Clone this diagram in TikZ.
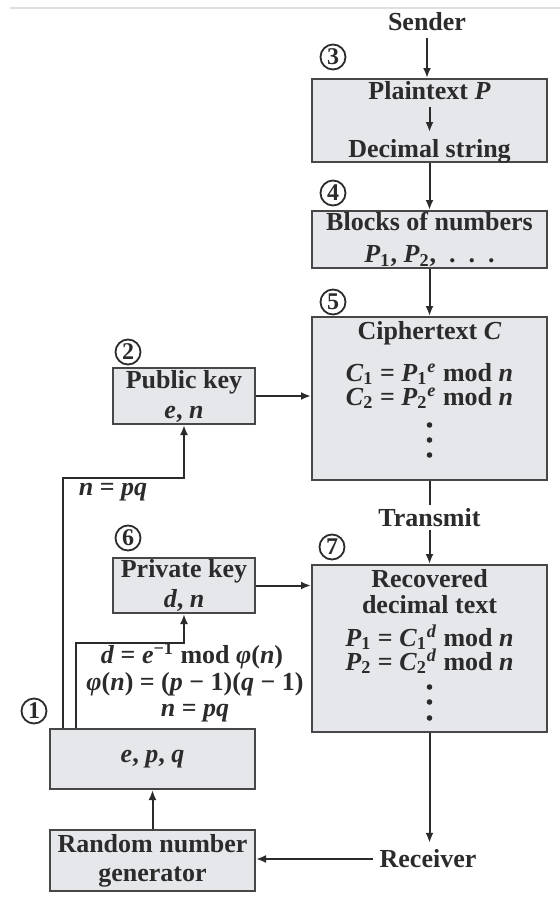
\documentclass[tikz,border=0pt]{standalone}
\usepackage{fontspec}
\setmainfont{Liberation Serif}
\usetikzlibrary{arrows.meta,positioning,calc}

\definecolor{boxfill}{HTML}{E6E7EB}
\definecolor{boxline}{HTML}{474747}
\definecolor{inkc}{HTML}{2B2B2B}

% variables and indices in the text font
\newcommand{\vi}[1]{\textit{#1}}
\newcommand{\sbx}[1]{\textsubscript{#1}}
\newcommand{\sbsp}[2]{\textsubscript{#1}\textsuperscript{\itshape #2}}

\begin{document}
\begin{tikzpicture}[x=0.5pt, y=-0.5pt,
  every node/.style={font=\fontsize{13}{15}\selectfont\bfseries, text=inkc},
  blk/.style={draw=boxline, fill=boxfill, line width=1pt, inner sep=0pt},
  num/.style={draw=inkc, circle, line width=0.9pt, minimum size=12.5pt, inner sep=0pt,
    font=\fontsize{12}{12}\selectfont\bfseries},
  arr/.style={draw=inkc, line width=1pt, -{Latex[length=5pt,width=4pt]}}]

\useasboundingbox (0,0) rectangle (560,917);

% faint rule at the top
\draw[gray!25, line width=1pt] (10,8) -- (560,8);

% Sender side column
\node (sendr) at (427,22) {Sender};
\node[blk, minimum width=117.5pt, minimum height=41.5pt] (plain) at (429.5,120.5) {};
\node (ptxt) at (429.5,91) {Plaintext \vi{P}};
\node (dstr) at (429.5,151) {Decimal string};
\node[blk, minimum width=117.5pt, minimum height=28.5pt, align=center] (blocks) at (429.5,239.5)
  {Blocks of numbers\\[1pt] \vi{P}\sbx{1}, \vi{P}\sbx{2}, \ .\ \ .\ \ .};
\node[blk, minimum width=117.5pt, minimum height=81.5pt] (ciph) at (429.5,398.5) {};
\node (ctitle) at (429.5,333) {Ciphertext \vi{C}};
\node[anchor=base, inner ysep=1pt] (cline1) at (429.5,381) {\vi{C}\sbx{1} = \vi{P}\sbsp{1}{e} mod \vi{n}};
\node[anchor=base, inner ysep=1pt] (cline2) at (429.5,405) {\vi{C}\sbx{2} = \vi{P}\sbsp{2}{e} mod \vi{n}};
\foreach \y in {425,440,455} \fill[inkc] (429.5,\y) circle (1.4pt);

% Receiver side
\node[blk, minimum width=117.5pt, minimum height=83.5pt] (recov) at (429.5,648.5) {};
\node[align=center, font=\fontsize{13}{13}\selectfont\bfseries] (rtitle) at (429.5,592) {Recovered\\decimal text};
\node[anchor=base, inner ysep=1pt] (rline1) at (429.5,646) {\vi{P}\sbx{1} = \vi{C}\sbsp{1}{d} mod \vi{n}};
\node[anchor=base, inner ysep=1pt] (rline2) at (429.5,670) {\vi{P}\sbx{2} = \vi{C}\sbsp{2}{d} mod \vi{n}};
\foreach \y in {687,702,718} \fill[inkc] (429.5,\y) circle (1.4pt);
\node (recvr) at (428,859) {Receiver};

% Key generation side
\node[blk, minimum width=71pt, minimum height=28pt, align=center] (pub) at (184,396) {Public key\\\vi{e}, \vi{n}};
\node[blk, minimum width=71pt, minimum height=27.5pt, align=center] (priv) at (184,585.5) {Private key\\\vi{d}, \vi{n}};
\node[blk, minimum width=102.5pt, minimum height=30pt] (epq) at (152.5,759) {\vi{e}, \vi{p}, \vi{q}};
\node[blk, minimum width=102.5pt, minimum height=30.5pt, align=center,
  font=\fontsize{13}{14.5}\selectfont\bfseries] (rng) at (152.5,860.5) {Random number\\generator};
\node (npq) at (113,492) {\vi{n} = \vi{pq}};
\node[anchor=base, inner ysep=1pt] (dline1) at (192,663) {\vi{d} = \vi{e}\textsuperscript{−1} mod \vi{φ}(\vi{n})};
\node[anchor=base, inner ysep=1pt] (dline2) at (195,690) {\vi{φ}(\vi{n}) = (\vi{p} − 1)(\vi{q} − 1)};
\node[anchor=base, inner ysep=1pt] (dline3) at (195,716) {\vi{n} = \vi{pq}};

% Step numbers
\node[num] (s1) at (34,711) {1};
\node[num] (s2) at (128,352) {2};
\node[num] (s3) at (333,57) {3};
\node[num] (s4) at (333,193) {4};
\node[num] (s5) at (333,302) {5};
\node[num] (s6) at (128,538) {6};
\node[num] (s7) at (332,547) {7};

% Connectors
\coordinate (bendA) at (184,478);
\coordinate (bendB) at (184,643);
\draw[arr] (sendr.south) -- (sendr.south |- plain.north);
\draw[arr] (ptxt) -- (dstr);
\draw[arr] (plain.south) -- (blocks.north);
\draw[arr] (blocks.south) -- (ciph.north);
\draw[arr] (ciph.south) -- node[pos=0.44, fill=white, inner sep=1.5pt] (trans) {Transmit} (recov.north);
\draw[arr] (pub.east) -- (pub.east -| ciph.west);
\draw[arr] (priv.east) -- (priv.east -| recov.west);
\draw[arr] ([xshift=7pt]epq.north west) |- (bendA) -- (pub.south);
\draw[arr] ([xshift=13.5pt]epq.north west) |- (bendB) -- (priv.south);
\draw[arr] (rng.north) -- (epq.south);
\draw[arr] (recov.south) -- (recov.south |- recvr.north);
\draw[arr] (recvr.west) -- (recvr.west -| rng.east);

\end{tikzpicture}
\end{document}
